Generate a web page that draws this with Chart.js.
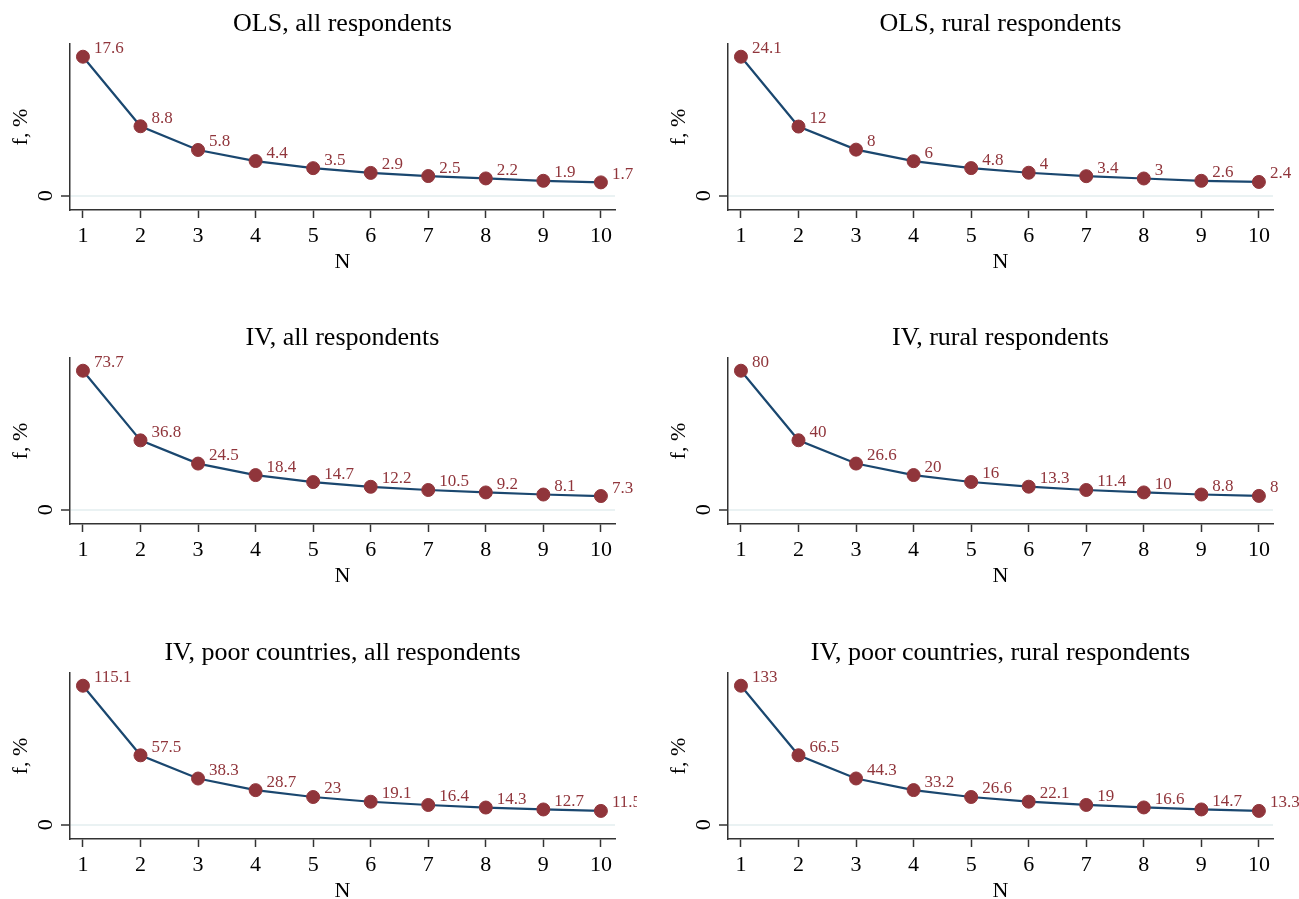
<!DOCTYPE html>
<html>
<head>
<meta charset="utf-8">
<script src="https://cdn.jsdelivr.net/npm/chart.js@4/dist/chart.umd.min.js"></script>
<style>
  html, body { margin: 0; padding: 0; background: #fff; overflow: hidden; }
  body { width: 1299px; height: 899px; position: relative; }
  canvas { position: absolute; }
</style>
</head>
<body>
<script>
// Number of persons N on the horizontal axis
const nValues = [1, 2, 3, 4, 5, 6, 7, 8, 9, 10];
const yTickValues = [0];

// f, % for each specification
const olsAll       = [17.6, 8.8, 5.8, 4.4, 3.5, 2.9, 2.5, 2.2, 1.9, 1.7];
const olsRural     = [24.1, 12, 8, 6, 4.8, 4, 3.4, 3, 2.6, 2.4];
const ivAll        = [73.7, 36.8, 24.5, 18.4, 14.7, 12.2, 10.5, 9.2, 8.1, 7.3];
const ivRural      = [80, 40, 26.6, 20, 16, 13.3, 11.4, 10, 8.8, 8];
const ivPoorAll    = [115.1, 57.5, 38.3, 28.7, 23, 19.1, 16.4, 14.3, 12.7, 11.5];
const ivPoorRural  = [133, 66.5, 44.3, 33.2, 26.6, 22.1, 19, 16.6, 14.7, 13.3];

const panelTitles = [
  'OLS, all respondents', 'OLS, rural respondents',
  'IV, all respondents', 'IV, rural respondents',
  'IV, poor countries, all respondents', 'IV, poor countries, rural respondents'
];
const panelSeries = [olsAll, olsRural, ivAll, ivRural, ivPoorAll, ivPoorRural];

const SERIF = '"Liberation Serif", "Times New Roman", serif';
const LINE = '#1a476f';
const MARK = '#90353b';
const AXIS = '#333333';

// value labels placed at two o'clock from each marker
const pointLabels = {
  id: 'pointLabels',
  afterDatasetsDraw(chart) {
    const ctx = chart.ctx;
    const ds = chart.data.datasets[0];
    const meta = chart.getDatasetMeta(0);
    ctx.save();
    ctx.font = '17px ' + SERIF;
    ctx.fillStyle = MARK;
    ctx.textAlign = 'left';
    ctx.textBaseline = 'middle';
    meta.data.forEach((pt, i) => {
      ctx.fillText(String(ds.data[i].y), pt.x + 11, pt.y - 8);
    });
    ctx.restore();
  }
};

const colLeft = [0, 658];
const colWidth = [637, 641];
const rowTop = [0, 314, 629];
const CANVAS_H = 285;

panelSeries.forEach((series, k) => {
  const col = k % 2, row = Math.floor(k / 2);
  const cv = document.createElement('canvas');
  cv.width = colWidth[col];
  cv.height = CANVAS_H;
  cv.style.left = colLeft[col] + 'px';
  cv.style.top = rowTop[row] + 'px';
  cv.style.width = colWidth[col] + 'px';
  cv.style.height = CANVAS_H + 'px';
  document.body.appendChild(cv);

  const top = Math.max(...series);

  new Chart(cv, {
    type: 'line',
    data: {
      datasets: [{
        data: nValues.map((n, i) => ({ x: n, y: series[i] })),
        borderColor: LINE,
        borderWidth: 2.2,
        pointRadius: 6.5,
        pointHoverRadius: 6.5,
        pointBackgroundColor: MARK,
        pointBorderColor: MARK,
        pointBorderWidth: 1,
        tension: 0,
        clip: false
      }]
    },
    options: {
      responsive: false,
      animation: false,
      devicePixelRatio: 1,
      layout: { padding: { left: 0, top: 0, bottom: 0, right: colWidth[col] - 615 } },
      plugins: {
        legend: { display: false },
        tooltip: { enabled: false },
        title: {
          display: true,
          text: panelTitles[k],
          fullSize: false,
          color: '#000',
          font: { family: SERIF, size: 26, weight: 'normal', lineHeight: 1.2 },
          padding: { top: 9, bottom: 4 }
        }
      },
      scales: {
        x: {
          type: 'linear',
          min: 0.775,
          max: 10.245,
          afterBuildTicks: s => { s.ticks = nValues.map(v => ({ value: v })); },
          afterFit: s => { s.height = 75; },
          ticks: {
            color: '#000',
            font: { family: SERIF, size: 22 },
            padding: 5,
            maxRotation: 0,
            autoSkip: false
          },
          grid: {
            drawOnChartArea: false,
            drawTicks: true,
            tickLength: 8,
            tickColor: AXIS,
            tickWidth: 1.5
          },
          border: { display: true, color: AXIS, width: 1.5 },
          title: {
            display: true,
            text: 'N',
            color: '#000',
            font: { family: SERIF, size: 22, lineHeight: 1.2 },
            padding: { top: 0, bottom: 10 }
          }
        },
        y: {
          min: -0.102 * top,
          max: 1.09 * top,
          afterBuildTicks: s => { s.ticks = yTickValues.map(v => ({ value: v })); },
          afterFit: s => { s.width = 70; },
          ticks: {
            color: '#000',
            font: { family: SERIF, size: 22 },
            padding: 9,
            minRotation: 90,
            maxRotation: 90,
            crossAlign: 'center'
          },
          grid: {
            color: '#eaf2f3',
            lineWidth: 2,
            drawTicks: true,
            tickLength: 9,
            tickColor: AXIS,
            tickWidth: 1.5
          },
          border: { display: true, color: AXIS, width: 1.5 },
          title: {
            display: true,
            text: 'f, %',
            color: '#000',
            font: { family: SERIF, size: 22, lineHeight: 1.2 },
            padding: { top: 8, bottom: 0 }
          }
        }
      }
    },
    plugins: [pointLabels]
  });
});
</script>
</body>
</html>
